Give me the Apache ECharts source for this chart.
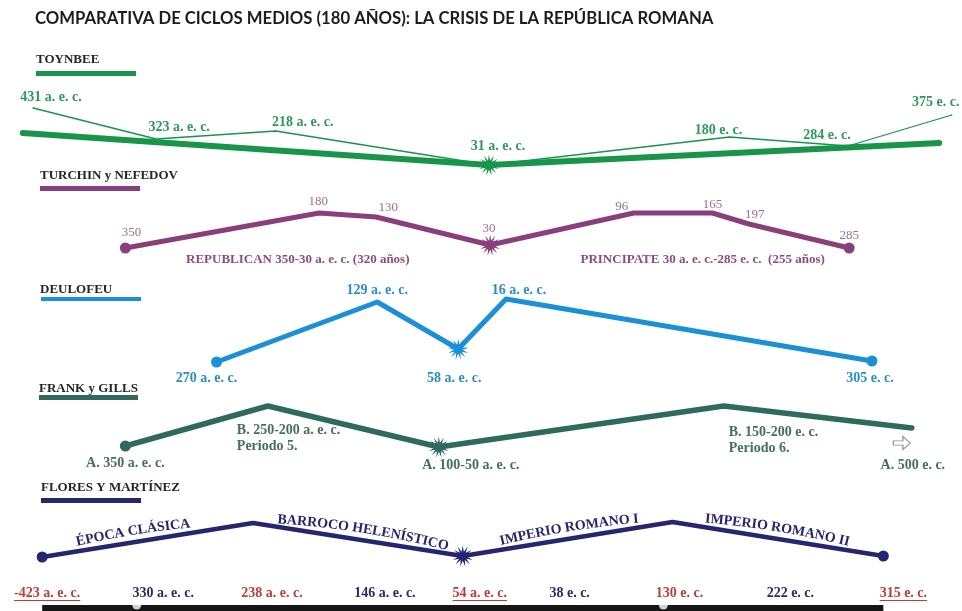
<!DOCTYPE html>
<html>
<head>
<meta charset="utf-8">
<script src="https://cdn.jsdelivr.net/npm/echarts@6/dist/echarts.min.js"></script>
<style>
html, body { margin: 0; padding: 0; background: #ffffff; }
#chart { width: 962px; height: 611px; }
</style>
</head>
<body>
<div id="chart"></div>
<script>
// Years: negative = a. e. c., positive = e. c.
// Levels: schematic height of each cycle phase inside its own band.

const chartTitle = 'COMPARATIVA DE CICLOS MEDIOS (180 AÑOS): LA CRISIS DE LA REPÚBLICA ROMANA';

// Toynbee
const toynbeeYears = [-431, -323, -218, -31, 180, 284, 375];
const toynbeeLevels = [62, 31, 39, 5, 33, 24, 55];
const toynbeeLabels = ['431 a. e. c.', '323 a. e. c.', '218 a. e. c.', '31 a. e. c.', '180 e. c.', '284 e. c.', '375 e. c.'];
const toynbeeTrendYears = [-440, -31, 364];
const toynbeeTrendLevels = [37, 5, 27];

// Turchin y Nefedov
const turchinYears = [-350, -180, -130, -30, 96, 165, 197, 285];
const turchinLevels = [12, 47, 43, 15, 47, 47, 36, 12];
const turchinLabels = ['350', '180', '130', '30', '96', '165', '197', '285'];
const turchinPeriodNames = ['REPUBLICAN 350-30 a. e. c. (320 años)', 'PRINCIPATE 30 a. e. c.-285 e. c.  (255 años)'];
const turchinPeriodFrom = [-350, -30];
const turchinPeriodTo = [-30, 285];

// Deulofeu
const deulofeuYears = [-270, -129, -58, -16, 305];
const deulofeuLevels = [8, 68, 21, 71, 9];
const deulofeuLabels = ['270 a. e. c.', '129 a. e. c.', '58 a. e. c.', '16 a. e. c.', '305 e. c.'];

// Frank y Gills
const frankYears = [-350, -225, -75, 175, 340];
const frankLevels = [9, 49, 8, 49, 27];
const frankLabels = ['A. 350 a. e. c.', 'B. 250-200 a. e. c.\nPeriodo 5.', 'A. 100-50 a. e. c.', 'B. 150-200 e. c.\nPeriodo 6.', 'A. 500 e. c.'];

// Flores y Martínez
const floresYears = [-423, -238, -54, 130, 315];
const floresLevels = [8, 42, 9, 43, 9];
const floresEras = ['ÉPOCA CLÁSICA', 'BARROCO HELENÍSTICO', 'IMPERIO ROMANO I', 'IMPERIO ROMANO II'];

// Timeline
const timelineYears = [-423, -330, -238, -146, -54, 38, 130, 222, 315];
const timelineLabels = ['-423 a. e. c.', '330 a. e. c.', '238 a. e. c.', '146 a. e. c.', '54 a. e. c.', '38 e. c.', '130 e. c.', '222 e. c.', '315 e. c.'];
const timelineStart = -423;
const timelineEnd = 315;
const timelineMarks = [-340, 122];

// ---------- styling / layout ----------
const SERIF = '"Liberation Serif", "Times New Roman", serif';
const X_MIN = -460, X_MAX = 384;

const C_TOYNBEE = '#17954a', C_TOYNBEE_TXT = '#2c9a5c';
const C_TURCHIN = '#8a3f7d', C_TURCHIN_NUM = '#9c6d93', C_TURCHIN_TXT = '#8b4d80';
const C_DEULOFEU = '#1b90d7', C_DEULOFEU_TXT = '#2a8dca';
const C_FRANK = '#2f6b5c', C_FRANK_TXT = '#43705f';
const C_FLORES = '#26256f';
const C_RED = '#c23a36', C_NAVY = '#2a2a6a';

const bands = [
  { top: 100, height: 70 },
  { top: 200, height: 60 },
  { top: 290, height: 80 },
  { top: 395, height: 60 },
  { top: 510, height: 55 },
  { top: 590, height: 21 }
];

const toynbeeMarks = ['', '', '', 'star', '', '', ''];
const toynbeeOffsets = [[18, -11], [23, -12], [27, -9], [9, -19], [-11, -7], [-21, -11], [-16, -13]];
const turchinMarks = ['dot', '', '', 'star', '', '', '', 'dot'];
const turchinOffsets = [[6, -15], [-1, -11], [12, -9], [-1, -16], [-12, -6], [0, -8], [6, -9], [0, -12]];
const deulofeuMarks = ['dot', '', 'star', '', 'dot'];
const deulofeuOffsets = [[-10, 16], [0, -12], [-4, 29], [13, -9], [-2, 17]];
const frankMarks = ['dot', '', 'star', '', 'arrow'];
const frankOffsets = [[0, 17], [-31, 32], [32, 18], [5, 34], [11, 22]];
const frankAlign = ['center', 'left', 'center', 'left', 'center'];
const floresMarks = ['dot', '', 'star', '', 'dot'];
const periodNudge = [-10, 33];
const timelineNudge = [5, 15, 19, 27, 17, 2, 7, 13, 20];
const timelineTone = ['redU', 'navy', 'red', 'navy', 'redU', 'navy', 'red', 'navy', 'redU'];

function burst(n, inner) {
  let d = '';
  for (let k = 0; k < 2 * n; k++) {
    const r = k % 2 ? inner : 1;
    const a = Math.PI * k / n - Math.PI / 2;
    d += (k ? 'L' : 'M') + (50 + 50 * r * Math.cos(a)).toFixed(2) + ',' + (50 + 50 * r * Math.sin(a)).toFixed(2);
  }
  return 'path://' + d + 'Z';
}
const STAR = burst(13, 0.42);
const ARROW = 'path://M0,4L9,4L9,0L16,6L9,12L9,8L0,8Z';

const measureCtx = document.createElement('canvas').getContext('2d');
function textWidth(t, font) { measureCtx.font = font; return measureCtx.measureText(t).width; }

function buildPoints(years, levels, labels, marks, offsets, opts) {
  return years.map(function (yr, i) {
    const m = marks[i];
    const item = { value: [yr, levels[i]] };
    if (m === 'star') { item.symbol = STAR; item.symbolSize = 21; }
    else if (m === 'dot') { item.symbol = 'circle'; item.symbolSize = 11; }
    else if (m === 'arrow') {
      item.symbol = ARROW; item.symbolSize = [17, 13]; item.symbolOffset = [-10, 15];
      item.itemStyle = { color: '#ffffff', borderColor: '#8a8a8a', borderWidth: 1 };
    }
    else { item.symbol = 'circle'; item.symbolSize = 1; }
    if (labels) {
      item.label = {
        show: true,
        position: 'inside',
        formatter: labels[i],
        offset: offsets[i],
        align: opts.align ? opts.align[i] : 'center',
        verticalAlign: 'middle'
      };
    }
    return item;
  });
}

function lineSeries(idx, data, color, width, labelStyle, z, cap) {
  return {
    type: 'line',
    xAxisIndex: idx,
    yAxisIndex: idx,
    data: data,
    clip: false,
    silent: true,
    z: z || 2,
    lineStyle: { color: color, width: width, cap: cap || 'round', join: 'round' },
    itemStyle: { color: color },
    label: Object.assign({ show: false }, labelStyle || {}),
    emphasis: { disabled: true }
  };
}

const ERA_FONT = 'bold 14px ' + SERIF;
const ERA_RADIUS = 950;
const ERA_LIFT = 11;
const eraShift = [-13, 4, 3, -2];

function renderEra(params, api) {
  const i = api.value(2);
  const p1 = api.coord([floresYears[i], floresLevels[i]]);
  const p2 = api.coord([floresYears[i + 1], floresLevels[i + 1]]);
  const dx = p2[0] - p1[0], dy = p2[1] - p1[1];
  const len = Math.hypot(dx, dy);
  const ux = dx / len, uy = dy / len;
  const nx = uy, ny = -ux;
  const cx = (p1[0] + p2[0]) / 2 + ux * eraShift[i] + nx * ERA_LIFT;
  const cy = (p1[1] + p2[1]) / 2 + uy * eraShift[i] + ny * ERA_LIFT;
  const text = floresEras[i];
  const total = textWidth(text, ERA_FONT);
  let s = -total / 2;
  const base = -Math.atan2(uy, ux);
  const children = [];
  Array.from(text).forEach(function (ch) {
    const w = textWidth(ch, ERA_FONT);
    const sc = s + w / 2;
    const phi = sc / ERA_RADIUS;
    const lx = ERA_RADIUS * Math.sin(phi);
    const ld = ERA_RADIUS * (1 - Math.cos(phi));
    children.push({
      type: 'text',
      x: cx + ux * lx - nx * ld,
      y: cy + uy * lx - ny * ld,
      rotation: base - phi,
      style: { text: ch, font: ERA_FONT, fill: C_FLORES, align: 'center', verticalAlign: 'middle' }
    });
    s += w;
  });
  return { type: 'group', children: children };
}

const TL_FONT = 'bold 14px ' + SERIF;
function renderTimelineLabel(params, api) {
  const i = params.dataIndex;
  const p = api.coord([api.value(0), api.value(1)]);
  const x = p[0] + timelineNudge[i];
  const tone = timelineTone[i];
  const col = tone === 'navy' ? C_NAVY : C_RED;
  const children = [{
    type: 'text', x: x, y: p[1],
    style: { text: timelineLabels[i], font: TL_FONT, fill: col, align: 'center', verticalAlign: 'middle' }
  }];
  if (tone === 'redU') {
    const w = textWidth(timelineLabels[i], TL_FONT);
    children.push({
      type: 'line',
      shape: { x1: x - w / 2, y1: p[1] + 7.5, x2: x + w / 2, y2: p[1] + 7.5 },
      style: { stroke: col, lineWidth: 1.2 }
    });
  }
  return { type: 'group', children: children };
}

const PERIOD_FONT = 'bold 13px ' + SERIF;
function renderPeriod(params, api) {
  const i = params.dataIndex;
  const p = api.coord([api.value(0), api.value(1)]);
  return {
    type: 'text', x: p[0] + periodNudge[i], y: p[1],
    style: { text: turchinPeriodNames[i], font: PERIOD_FONT, fill: C_TURCHIN_TXT, align: 'center', verticalAlign: 'middle' }
  };
}

// section headers with their colour keys
const headers = [
  { name: 'TOYNBEE', x: 36, y: 60, bar: [36, 71, 100, 5], color: C_TOYNBEE },
  { name: 'TURCHIN y NEFEDOV', x: 40, y: 176, bar: [40, 186, 100, 5], color: C_TURCHIN },
  { name: 'DEULOFEU', x: 40, y: 290, bar: [41, 297, 100, 4], color: C_DEULOFEU },
  { name: 'FRANK y GILLS', x: 39, y: 389, bar: [39, 395, 99, 5], color: C_FRANK },
  { name: 'FLORES Y MARTÍNEZ', x: 41, y: 488, bar: [41, 498, 100, 5], color: C_FLORES }
];
const graphics = [];
headers.forEach(function (h) {
  graphics.push({
    type: 'text', x: h.x, y: h.y,
    style: { text: h.name, font: 'bold 13px ' + SERIF, fill: '#262626', align: 'left', verticalAlign: 'middle' }
  });
  graphics.push({
    type: 'rect', x: h.bar[0], y: h.bar[1],
    shape: { width: h.bar[2], height: h.bar[3] },
    style: { fill: h.color }
  });
});

const grids = bands.map(function (b) { return { left: 0, right: 0, top: b.top, height: b.height, containLabel: false }; });
const xAxes = bands.map(function (b, i) { return { type: 'value', gridIndex: i, min: X_MIN, max: X_MAX, show: false }; });
const yAxes = bands.map(function (b, i) { return { type: 'value', gridIndex: i, min: 0, max: b.height, show: false }; });

const labelFont = { fontFamily: SERIF, fontWeight: 'bold', fontSize: 14 };

const series = [
  // Toynbee: broad trend and detailed path
  lineSeries(0, toynbeeTrendYears.map(function (y, i) { return { value: [y, toynbeeTrendLevels[i]], symbol: 'none' }; }), C_TOYNBEE, 6, null, 2),
  lineSeries(0, buildPoints(toynbeeYears, toynbeeLevels, toynbeeLabels, toynbeeMarks, toynbeeOffsets, {}), C_TOYNBEE, 1.3,
    Object.assign({ color: C_TOYNBEE_TXT }, labelFont), 3),
  // Turchin y Nefedov
  lineSeries(1, buildPoints(turchinYears, turchinLevels, turchinLabels, turchinMarks, turchinOffsets, {}), C_TURCHIN, 5,
    { color: C_TURCHIN_NUM, fontFamily: SERIF, fontSize: 13 }, 3),
  {
    type: 'custom', xAxisIndex: 1, yAxisIndex: 1, silent: true,
    data: turchinPeriodFrom.map(function (f, i) { return [(f + turchinPeriodTo[i]) / 2, 0]; }),
    renderItem: renderPeriod
  },
  // Deulofeu
  lineSeries(2, buildPoints(deulofeuYears, deulofeuLevels, deulofeuLabels, deulofeuMarks, deulofeuOffsets, {}), C_DEULOFEU, 5,
    Object.assign({ color: C_DEULOFEU_TXT }, labelFont), 3),
  // Frank y Gills
  lineSeries(3, buildPoints(frankYears, frankLevels, frankLabels, frankMarks, frankOffsets, { align: frankAlign }), C_FRANK, 5.5,
    Object.assign({ color: C_FRANK_TXT, lineHeight: 16 }, labelFont), 3),
  // Flores y Martínez
  lineSeries(4, buildPoints(floresYears, floresLevels, null, floresMarks, null, {}), C_FLORES, 4.5, null, 3),
  {
    type: 'custom', xAxisIndex: 4, yAxisIndex: 4, silent: true,
    data: floresEras.map(function (t, i) { return [floresYears[i], floresLevels[i], i]; }),
    renderItem: renderEra
  },
  // Timeline bar
  lineSeries(5, [{ value: [timelineStart, 0], symbol: 'none' }, { value: [timelineEnd, 0], symbol: 'none' }], '#161616', 12, null, 2, 'butt'),
  {
    type: 'scatter', xAxisIndex: 5, yAxisIndex: 5, silent: true, z: 4,
    data: timelineMarks.map(function (y) { return [y, 6]; }),
    symbolSize: 9, itemStyle: { color: '#ffffff' }
  },
  {
    type: 'custom', xAxisIndex: 5, yAxisIndex: 5, silent: true,
    data: timelineYears.map(function (y) { return [y, 18]; }),
    renderItem: renderTimelineLabel
  }
];

const chart = echarts.init(document.getElementById('chart'), null, { renderer: 'canvas' });
chart.setOption({
  animation: false,
  backgroundColor: '#ffffff',
  title: {
    text: chartTitle,
    left: 30, top: 5,
    textStyle: { fontFamily: 'Lato, "Open Sans", sans-serif', fontWeight: 'bold', fontSize: 16.7, color: '#1c1c1c' }
  },
  grid: grids,
  xAxis: xAxes,
  yAxis: yAxes,
  graphic: graphics,
  series: series
});
</script>
</body>
</html>
